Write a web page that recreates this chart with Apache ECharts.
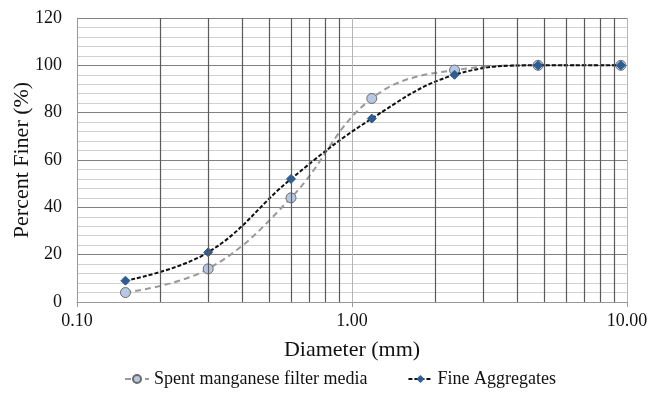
<!DOCTYPE html>
<html><head><meta charset="utf-8">
<script src="https://cdn.jsdelivr.net/npm/echarts@6/dist/echarts.min.js"></script>
<style>html,body{margin:0;padding:0;background:#fff}#c{width:648px;height:394px}</style>
</head><body><div id="c"></div>
<script>
const diameters = [0.15, 0.3, 0.6, 1.18, 2.36, 4.75, 9.5];
const spentMedia = [4, 14, 44, 86, 98, 100, 100];
const fineAggregates = [9, 21, 52, 77.5, 96, 100, 100];
const minorDiameters = [0.2,0.3,0.4,0.5,0.6,0.7,0.8,0.9,2,3,4,5,6,7,8,9];
const seriesNames = ['Spent manganese filter media', 'Fine Aggregates'];
const font = 'Liberation Serif';

const chart = echarts.init(document.getElementById('c'));
chart.setOption({
  animation: false,
  grid: {left: 77, top: 18, right: 21, bottom: 92, containLabel: false, outerBoundsMode: 'none'},
  legend: {
    bottom: 1, left: 119, itemGap: 40, itemWidth: 24, itemHeight: 10,
    textStyle: {fontFamily: font, fontSize: 18, color: '#111'},
    data: seriesNames
  },
  xAxis: {
    type: 'log', logBase: 10, min: 0.1, max: 10,
    name: 'Diameter (mm)', nameLocation: 'middle', nameGap: 37, nameMoveOverlap: false,
    nameTextStyle: {fontFamily: font, fontSize: 22, color: '#111'},
    axisLine: {lineStyle: {color: '#999'}},
    axisTick: {show: true, length: 5, lineStyle: {color: '#999'}},
    axisLabel: {fontFamily: font, fontSize: 18, color: '#111', margin: 10,
      formatter: v => Number(v).toFixed(2)},
    splitLine: {show: true, lineStyle: {color: '#b5b5b5', width: 1}}
  },
  yAxis: {
    type: 'value', min: 0, max: 120, interval: 20,
    name: 'Percent Finer (%)', nameLocation: 'middle', nameGap: 44, nameMoveOverlap: false,
    nameTextStyle: {fontFamily: font, fontSize: 22, color: '#111'},
    axisLine: {show: true, lineStyle: {color: '#999'}},
    axisTick: {show: false},
    axisLabel: {fontFamily: font, fontSize: 18, color: '#111', margin: 15},
    splitLine: {show: true, lineStyle: {color: '#808080', width: 1}},
    minorTick: {show: false, splitNumber: 5},
    minorSplitLine: {show: true, lineStyle: {color: '#d0d0d0', width: 1}}
  },
  series: [
    {
      type: 'line', data: [], silent: true, z: 1,
      markLine: {
        silent: true, symbol: ['none', 'none'], label: {show: false},
        lineStyle: {color: '#5a5a5a', width: 1.2, type: 'solid'},
        data: minorDiameters.map(d => ({xAxis: d}))
      }
    },
    {
      name: seriesNames[0], type: 'line', z: 3,
      data: diameters.map((d, i) => [d, spentMedia[i]]),
      smooth: 0.4,
      symbol: 'circle', symbolSize: 10,
      lineStyle: {color: '#9a9a9a', width: 2, type: [6, 4]},
      itemStyle: {color: '#b7c8e4', borderColor: '#6b6b6b', borderWidth: 1}
    },
    {
      name: seriesNames[1], type: 'line', z: 4,
      data: diameters.map((d, i) => [d, fineAggregates[i]]),
      smooth: 0.4,
      symbol: 'diamond', symbolSize: 9,
      lineStyle: {color: '#111', width: 2, type: [4, 2]},
      itemStyle: {color: '#2e5d94', borderColor: '#2e5d94'}
    }
  ]
});
</script></body></html>
